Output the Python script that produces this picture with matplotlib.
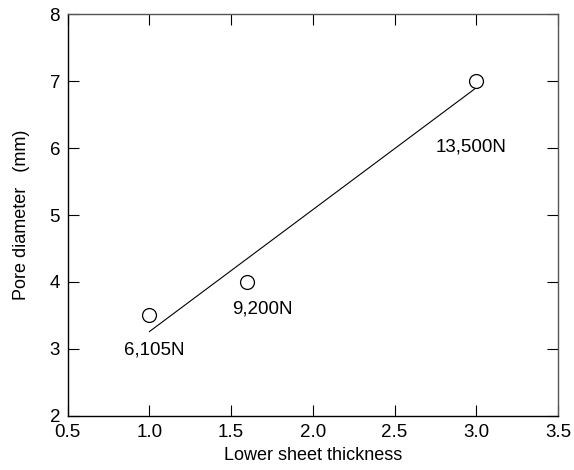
import matplotlib
matplotlib.use('Agg')
import matplotlib.pyplot as plt

plt.rcParams['font.family'] = ['Liberation Sans', 'DejaVu Sans']

# measured points
thickness = [1.0, 1.6, 3.0]
pore = [3.5, 4.0, 7.0]
loads = ['6,105N', '9,200N', '13,500N']
label_x = [1.03, 1.69, 2.97]
label_y = [2.98, 3.6, 6.01]

# fitted line ends
fit_x = [1.0, 3.0]
fit_y = [3.26, 6.9]

fig = plt.figure(figsize=(5.74, 4.70), dpi=100)
ax = fig.add_axes([0.118, 0.115, 0.854, 0.855])

ax.plot(fit_x, fit_y, color='black', linewidth=0.8)
ax.plot(thickness, pore, 'o', markersize=10, markerfacecolor='white',
        markeredgecolor='black', markeredgewidth=0.9)

for x, y, t in zip(label_x, label_y, loads):
    ax.text(x, y, t, ha='center', va='center', fontsize=13.5)

ax.set_xlim(0.5, 3.5)
ax.set_ylim(2, 8)
ax.set_xticks([0.5, 1.0, 1.5, 2.0, 2.5, 3.0, 3.5])
ax.set_xticklabels(['0.5', '1.0', '1.5', '2.0', '2.5', '3.0', '3.5'])
ax.set_yticks([2, 3, 4, 5, 6, 7, 8])
ax.tick_params(direction='in', top=True, right=True, length=8, width=0.8,
               labelsize=13.5)
ax.tick_params(axis='x', pad=6)
ax.tick_params(axis='y', pad=5.5)
for s in ['left', 'bottom']:
    ax.spines[s].set_linewidth(1.0)
for s in ['top', 'right']:
    ax.spines[s].set_color('#555555')
    ax.spines[s].set_linewidth(1.0)

ax.set_xlabel('Lower sheet thickness', fontsize=13, labelpad=4)
ax.set_ylabel('Pore diameter   (mm)', fontsize=13, labelpad=14)

fig.savefig('out.png', dpi=100)
